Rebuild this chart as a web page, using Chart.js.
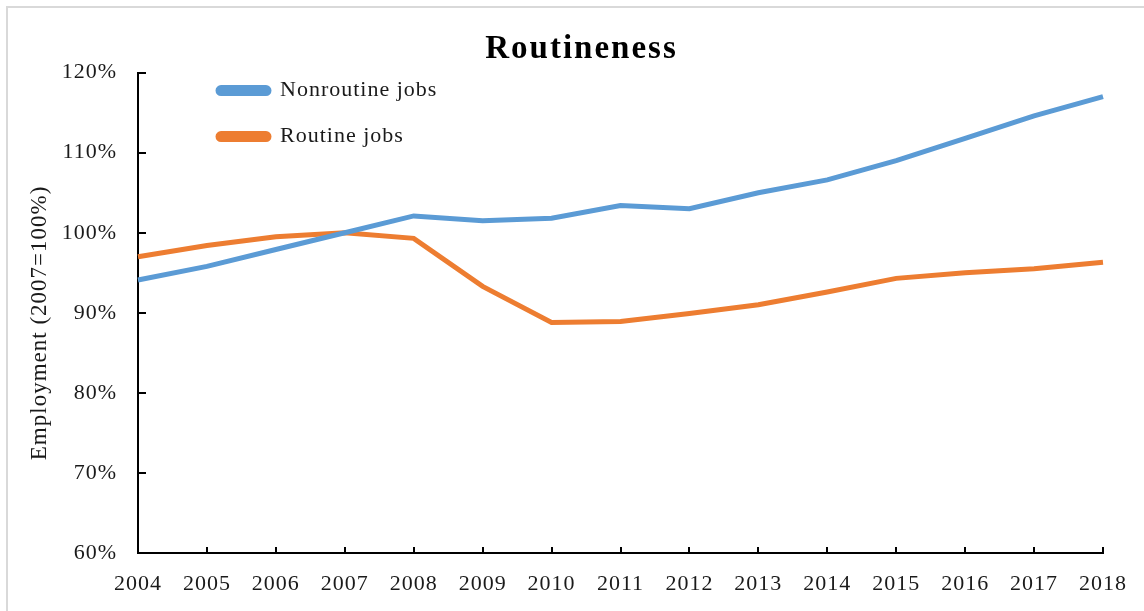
<!DOCTYPE html>
<html>
<head>
<meta charset="utf-8">
<title>Routineness</title>
<script src="https://cdn.jsdelivr.net/npm/chart.js@4.4.1/dist/chart.umd.min.js"></script>
<style>
  body { margin: 0; background: #fff; overflow: hidden; }
  /* light frame round the chart, cut off at the right and bottom */
  #frame { position: absolute; left: 6px; top: 6px; width: 1170px; height: 640px; border: 2px solid #d9d9d9; }
  #graph { position: absolute; left: 0; top: 0; }
</style>
</head>
<body>
<div id="frame"></div>
<canvas id="graph" width="1144" height="611"></canvas>
<script>
// employment index, 2007 = 100
const years = ['2004', '2005', '2006', '2007', '2008', '2009', '2010', '2011',
               '2012', '2013', '2014', '2015', '2016', '2017', '2018'];
const nonroutineJobs = [94.1, 95.8, 97.9, 100.0, 102.1, 101.5, 101.8, 103.4,
                        103.0, 105.0, 106.6, 109.0, 111.8, 114.6, 117.0];
const routineJobs = [97.0, 98.4, 99.5, 100.0, 99.3, 93.3, 88.8, 88.9,
                     89.9, 91.0, 92.6, 94.3, 95.0, 95.5, 96.3];
const yMin = 60, yMax = 120, yStep = 10;

const serif = '"Liberation Serif", "Times New Roman", serif';
const ink = '#1a1a1a';

// canvas state is reset on resize, so put the letter spacing back each draw
const spacing = {
  id: 'spacing',
  beforeUpdate(chart) { chart.ctx.letterSpacing = '1px'; },
  beforeDraw(chart) { chart.ctx.letterSpacing = '1px'; }
};

// wider spacing for the title only
function spaced(box, px) {
  if (box._spaced) return;
  const draw = box.draw;
  box.draw = function (area) {
    const c = this.ctx;
    c.letterSpacing = px;
    draw.call(this, area);
    c.letterSpacing = '1px';
  };
  box._spaced = true;
}

// legend inside the plot at top left, title centred on the frame
const placeBoxes = {
  id: 'placeBoxes',
  afterLayout(chart) {
    const a = chart.chartArea;
    const lg = chart.legend;
    lg.left = a.left + 56;
    lg.top = a.top - 17;
    lg.right = a.right;
    lg.bottom = a.bottom;

    const tb = chart.titleBlock;
    tb.left = 60;
    tb.right = a.right;
    spaced(tb, '2px');
  }
};

const ctx = document.getElementById('graph').getContext('2d');
new Chart(ctx, {
  type: 'line',
  data: {
    labels: years,
    datasets: [{
      label: 'Nonroutine jobs',
      data: nonroutineJobs,
      borderColor: '#5b9bd5',
      backgroundColor: '#5b9bd5',
      borderWidth: 5,
      pointRadius: 0,
      tension: 0
    }, {
      label: 'Routine jobs',
      data: routineJobs,
      borderColor: '#ed7d31',
      backgroundColor: '#ed7d31',
      borderWidth: 5,
      pointRadius: 0,
      tension: 0
    }]
  },
  options: {
    responsive: false,
    animation: false,
    devicePixelRatio: 1,
    layout: { padding: { top: 0, right: 41, bottom: 0, left: 0 } },
    plugins: {
      title: {
        display: true,
        text: 'Routineness',
        color: '#000',
        font: { family: serif, size: 33, weight: 'bold' },
        padding: { top: 30, bottom: 3 }
      },
      legend: {
        position: 'chartArea',
        align: 'start',
        labels: {
          color: ink,
          font: { family: serif, size: 22 },
          boxWidth: 51,
          boxHeight: 6,
          padding: 24,
          useBorderRadius: true,
          borderRadius: 3
        }
      },
      tooltip: { enabled: false }
    },
    scales: {
      x: {
        grid: { drawOnChartArea: false, tickLength: -6, color: '#000', lineWidth: 2 },
        border: { color: '#000', width: 2 },
        ticks: {
          color: ink,
          font: { family: serif, size: 22 },
          padding: 24,
          maxRotation: 0,
          autoSkip: false
        },
        afterFit(scale) {
          scale.height = 58;
          scale.paddingLeft = 0;
          scale.paddingRight = 0;
        }
      },
      y: {
        min: yMin,
        max: yMax,
        grid: { drawOnChartArea: false, tickLength: -8, color: '#000', lineWidth: 2 },
        border: { color: '#000', width: 2 },
        ticks: {
          stepSize: yStep,
          color: ink,
          font: { family: serif, size: 22 },
          padding: 29,
          callback: v => v + '%'
        },
        title: {
          display: true,
          text: 'Employment (2007=100%)   ',
          color: ink,
          font: { family: serif, size: 23 },
          padding: { top: 26, bottom: 0 }
        },
        afterFit(scale) { scale.width = 138; }
      }
    }
  },
  plugins: [spacing, placeBoxes]
});
</script>
</body>
</html>
